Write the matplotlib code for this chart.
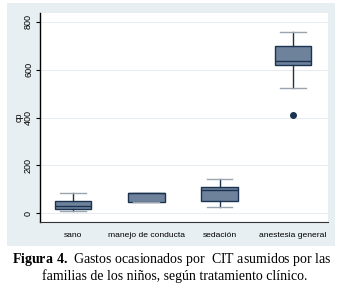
import matplotlib.pyplot as plt
from matplotlib.patches import Rectangle

plt.rcParams['mathtext.fontset'] = 'custom'
plt.rcParams['mathtext.rm'] = 'Liberation Serif'
plt.rcParams['mathtext.bf'] = 'Liberation Serif:bold'

categories = ['sano', 'manejo de conducta', 'sedación', 'anestesia general']
# box stats: whislo, q1, med, q3, whishi
whislo = [8, 46, 24, 525]
q1 = [18, 46, 49, 620]
med = [30, 83, 95, 636]
q3 = [50, 83, 110, 699]
whishi = [83, 83, 144, 757]
fliers = [[], [], [], [410]]
yticks = [0, 200, 400, 600, 800]

fig = plt.figure(figsize=(3.43, 2.89), dpi=100)

# gray stata-like panel behind the plot
fig.patches.append(Rectangle((7 / 343, 1 - 246 / 289), 328 / 343, 243 / 289,
                             transform=fig.transFigure, facecolor='#e8eff2',
                             edgecolor='none', zorder=-5))

ax = fig.add_axes([40 / 343, 1 - 222 / 289, 288 / 343, 209 / 289])
ax.set_zorder(2)
ax.set_facecolor('white')

stats = []
for i, c in enumerate(categories):
    stats.append({'label': c, 'whislo': whislo[i], 'q1': q1[i], 'med': med[i],
                  'q3': q3[i], 'whishi': whishi[i], 'fliers': fliers[i]})

ax.bxp(stats, positions=[1, 2, 3, 4], widths=0.5, patch_artist=True,
       boxprops=dict(facecolor='#6e829b', edgecolor='#1b3350', linewidth=1.0),
       medianprops=dict(color='#1b3350', linewidth=1.0),
       whiskerprops=dict(color='#1b3350', linewidth=1.0),
       capprops=dict(color='#9aa4ae', linewidth=1.0),
       flierprops=dict(marker='o', markerfacecolor='#1b3350', markeredgecolor='#1b3350',
                       markersize=4), capwidths=0.35)

ax.set_xlim(0.55, 4.48)
ax.set_ylim(-37, 837)
ax.set_yticks(yticks)
ax.set_yticklabels([str(t) for t in yticks], rotation=90, va='center', fontsize=6.5,
                   family='Liberation Sans')
ax.set_xticks([1, 2, 3, 4])
ax.set_xticklabels(categories, fontsize=6.1, family='Liberation Sans')
ax.tick_params(axis='x', length=0, pad=7)
ax.tick_params(axis='y', length=3, pad=2)
ax.grid(axis='y', color='#e6ecef', linewidth=0.7)
ax.set_axisbelow(True)
for s in ['top', 'right']:
    ax.spines[s].set_visible(False)
ax.spines['left'].set_color('black')
ax.spines['bottom'].set_color('#333333')
ax.spines['left'].set_linewidth(1.0)
ax.spines['bottom'].set_linewidth(0.8)
ax.set_ylabel('cp', fontsize=6.5, family='Liberation Sans', labelpad=0)

fig.text(0.5, 1 - 259 / 289,
         r'$\mathbf{Figura\ 4.}$' + ' Gastos ocasionados por  CIT asumidos por las',
         ha='center', va='center', fontsize=10, family='Liberation Serif')
fig.text(0.51, 1 - 276 / 289,
         'familias de los niños, según tratamiento clínico.',
         ha='center', va='center', fontsize=10, family='Liberation Serif')

fig.savefig('out.png', dpi=100)
